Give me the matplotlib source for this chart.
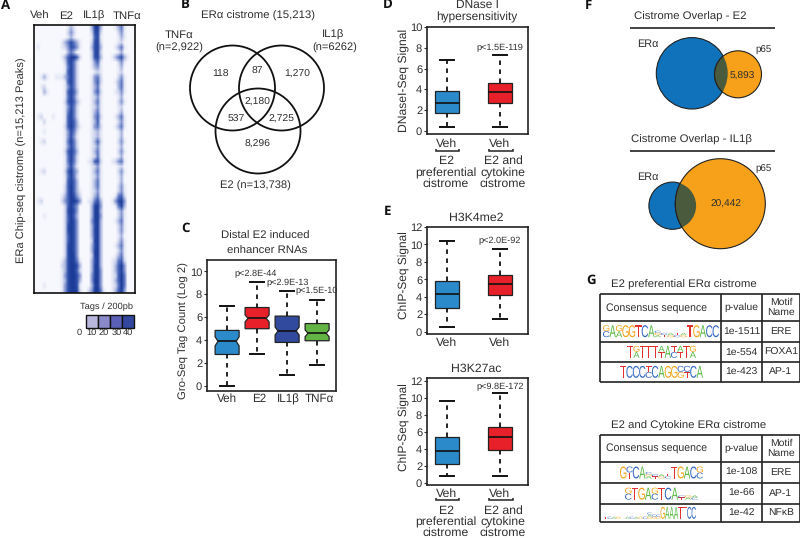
import numpy as np
import matplotlib
matplotlib.use("Agg")
import matplotlib.pyplot as plt
from matplotlib.colors import LinearSegmentedColormap
from matplotlib.patches import Circle, PathPatch, Rectangle
from matplotlib.path import Path
from matplotlib.textpath import TextPath
from matplotlib.font_manager import FontProperties
from matplotlib.transforms import Affine2D

plt.rcParams["font.family"] = ["Liberation Sans", "DejaVu Sans"]
plt.rcParams["text.hinting"] = "no_hinting"

W, H = 800, 538
DARK = "#2f2f2f"
BLUE = "#2b8aca"
RED = "#e8202a"
NAVY = "#324a9e"
GREEN = "#62b445"

# ===== Data =====
heat_labels = ["Veh", "E2", "IL1β", "TNFα"]
# heatmap intensity 0-9, read row by row (groups: Veh, E2, IL1b, TNFa)
heat_rows = [
    "000000000 00131000 00389300 001351000",
    "000000000 00242000 00278200 000241000",
    "000000000 00131000 00168100 000131000",
    "000000000 13575310 00278200 000120000",
    "010000000 12476410 00378300 001351000",
    "000000000 00353000 00278200 000130000",
    "000000000 13699620 00278300 013573100",
    "000000000 02685200 00146100 000241000",
    "000000000 01585200 00134100 000130000",
    "000000000 01685200 00012100 000120000",
    "001310011 13585200 00145200 000241000",
    "000000000 01685200 00146200 001351000",
    "001200000 01475200 00135100 000351000",
    "000310000 01686300 00146200 001241000",
    "000000000 01585200 00124100 000130000",
    "000000000 02686310 00135100 000241000",
    "000000000 01475200 00124100 000120000",
    "000000000 01585200 00135100 000130000",
    "012000100 01685200 00146200 001351000",
    "000200000 01686300 00136100 000241000",
    "000000000 02696310 00145200 001351000",
    "000100000 01475200 00123100 000130000",
    "000000000 01474100 00123100 000130000",
    "001200000 01585200 00136200 000241000",
    "000000000 01475200 00124100 000130000",
    "000000000 02686300 00135100 000241000",
    "000000000 01585200 00125100 000130000",
    "000000000 01585200 01267200 012451000",
    "000000000 01474100 00124100 000120000",
    "001200000 02695300 00135100 000241000",
    "000000000 01585200 00124100 000130000",
    "000000000 01686300 00135100 000130000",
    "000000000 02696300 00135100 000241000",
    "000000000 02696310 00124100 000241000",
    "000000000 13697420 00135100 001562000",
    "012000000 24699740 01257300 014794000",
    "000000000 02696400 00389400 001583000",
    "000000000 02797400 00389300 000241000",
    "000100000 02696300 00389400 000241000",
    "000000000 02697400 00489300 001351000",
    "000000000 02797400 00379300 000241000",
    "000000000 02797400 00389300 000241000",
    "000000000 02697400 00379300 000130000",
    "000000000 02697400 00289300 000241000",
    "000000000 02797400 00379300 001351000",
    "000000000 02797400 00389300 000241000",
    "000000000 02798400 00289300 001351000",
    "000000000 13798510 00379300 012562000",
    "000000000 23799730 00389300 013694000",
    "000000000 13799620 00389400 013684000",
    "000000000 14799740 00489400 012695000",
    "000000000 13799730 00499400 013695000",
    "000100000 14799710 00389400 012595000",
    "000000000 14799820 02499510 013694000",
]
tag_ticks = ["0", "10", "20", "30", "40"]
tag_colors = ["#b9b8dc", "#8a89c9", "#5a60b5", "#33479f"]

venn_numbers = ["118", "87", "1,270", "2,180", "537", "2,725", "8,296"]
f_e2_number = "5,893"
f_il1_number = "20,442"

# whislo, q1, med, q3, whishi
c_names = ["Veh", "E2", "IL1β", "TNFα"]
c_stats = [
    [0.0, 2.75, 3.9, 4.85, 7.0],
    [2.8, 5.0, 5.9, 6.85, 9.05],
    [1.0, 3.8, 4.8, 6.1, 8.3],
    [1.85, 3.95, 4.6, 5.45, 7.55],
]
c_notch = [0.4, 0.3, 0.35, 0.3]
c_pvals = ["p<2.8E-44", "p<2.9E-13", "p<1.5E-10"]

d_stats = [[0.4, 1.7, 2.7, 3.8, 6.8], [0.4, 2.7, 3.7, 4.6, 7.3]]
e1_stats = [[0.5, 2.75, 4.3, 5.8, 10.4], [1.5, 4.2, 5.5, 6.5, 9.5]]
e2_stats = [[0.8, 2.3, 3.8, 5.4, 9.6], [0.8, 3.9, 5.4, 6.6, 10.5]]

motifs_top = ["ERE", "FOXA1", "AP-1"]
pvals_top = ["1e-1511", "1e-554", "1e-423"]
motifs_bottom = ["ERE", "AP-1", "NFκB"]
pvals_bottom = ["1e-108", "1e-66", "1e-42"]

# logo columns: capitals = full height, lowercase = short stack
logo_ere = ["CG", "A", "AG", "G", "G", "T", "C", "A", "agc", "tc", "ga", "ct", "ga",
            "T", "G", "A", "C", "C"]
logo_foxa = ["T", "AG", "T", "T", "T", "TA", "A", "CT", "TA", "T", "AG"]
logo_ap1 = ["T", "C", "C", "C", "CT", "C", "A", "G", "G", "GC", "TC", "C", "A"]
logo_ere2 = ["G", "TC", "C", "A", "agc", "tc", "ga", "ct", "T", "G", "A", "C", "CG"]
logo_ap2 = ["CG", "T", "G", "A", "CG", "T", "C", "A", "tc", "ag", "ca"]
logo_nfkb = ["t", "c", "a", "g", "t", "a", "c", "a", "g", "c", "gac", "gc", "gc", "G",
             "A", "A", "A", "T", "T", "C", "C"]
letter_colors = {"A": "#5cb848", "C": "#3468c0", "G": "#f4a520", "T": "#e03030"}


# ===== Helpers =====
fig = plt.figure(figsize=(W / 100, H / 100), dpi=100)


def px_axes(x0, y0, x1, y1, **kw):
    return fig.add_axes([x0 / W, 1 - y1 / H, (x1 - x0) / W, (y1 - y0) / H], **kw)


def boxes(ax, stats, colors, width, cap, notch=None):
    bx = []
    for i, s in enumerate(stats):
        d = dict(whislo=s[0], q1=s[1], med=s[2], q3=s[3], whishi=s[4], fliers=[])
        if notch is not None:
            d["cilo"] = s[2] - notch[i]
            d["cihi"] = s[2] + notch[i]
        bx.append(d)
    art = ax.bxp(bx, positions=range(1, len(stats) + 1), widths=width, patch_artist=True,
                 showfliers=False, shownotches=notch is not None, capwidths=cap,
                 boxprops=dict(edgecolor="#222222", linewidth=0.9),
                 medianprops=dict(color="#111111", linewidth=1.2),
                 whiskerprops=dict(color="#111111", linewidth=1.3, linestyle=(0, (2.5, 2.5))),
                 capprops=dict(color="#111111", linewidth=1.4))
    for i, (patch, c) in enumerate(zip(art["boxes"], colors)):
        patch.set_facecolor(c)
        if notch is not None:
            # shallower waist than matplotlib's fixed one
            verts = patch.get_path().vertices.copy()
            pos = i + 1
            at_med = np.isclose(verts[:, 1], stats[i][2])
            verts[at_med, 0] = pos + np.sign(verts[at_med, 0] - pos) * width * 0.38
            patch.set_path(Path(verts, patch.get_path().codes))
            art["medians"][i].set_xdata([pos - width * 0.38, pos + width * 0.38])


def style_box_axes(ax, yticks, ylim, xlim):
    ax.set_xlim(*xlim)
    ax.set_ylim(*ylim)
    ax.set_yticks(yticks)
    ax.set_xticks([])
    ax.tick_params(axis="y", labelsize=8, length=2, width=0.8, pad=1.5, colors=DARK)
    for sp in ax.spines.values():
        sp.set_linewidth(1.2)
        sp.set_color("#222222")


# ===== A: heatmap =====
ax_a = px_axes(34, 25, 135, 293)
matrix = np.array([[int(c) for c in row.replace(" ", "")] for row in heat_rows], dtype=float)
heat_cmap = LinearSegmentedColormap.from_list(
    "heat", ["#f7f8fd", "#d5daef", "#94a3d8", "#4f6cbd", "#2a4ba6", "#1c3c98"])
ax_a.imshow(matrix, aspect="auto", cmap=heat_cmap, vmin=0, vmax=9, interpolation="bilinear")
ax_a.set_xticks([])
ax_a.set_yticks([])
for sp in ax_a.spines.values():
    sp.set_linewidth(1.2)
    sp.set_color("#111111")

# ===== C =====
ax_c = px_axes(207, 260, 336, 391)
boxes(ax_c, c_stats, [BLUE, RED, NAVY, GREEN], 0.8, 0.45, c_notch)
style_box_axes(ax_c, [0, 2, 4, 6, 8, 10], (-0.44, 11.0), (0.33, 4.63))

# ===== D, E =====
ax_d = px_axes(427, 27, 528, 134)
boxes(ax_d, d_stats, [BLUE, RED], 0.453, 0.27)
style_box_axes(ax_d, [0, 2, 4, 6, 8, 10], (-0.3, 10), (0.62, 2.53))

ax_e1 = px_axes(427, 227, 528, 334)
boxes(ax_e1, e1_stats, [BLUE, RED], 0.453, 0.27)
style_box_axes(ax_e1, [0, 2, 4, 6, 8, 10, 12], (-0.25, 12), (0.62, 2.53))

ax_e2 = px_axes(427, 378, 528, 485)
boxes(ax_e2, e2_stats, [BLUE, RED], 0.453, 0.27)
style_box_axes(ax_e2, [0, 2, 4, 6, 8, 10, 12], (-0.2, 12.3), (0.62, 2.53))

# ===== Overlay in pixel coordinates =====
ov = fig.add_axes([0, 0, 1, 1], facecolor="none", zorder=10)
ov.set_xlim(0, W)
ov.set_ylim(H, 0)
ov.axis("off")


def T(x, y, s, size=8.2, ha="center", **kw):
    kw.setdefault("color", DARK)
    ov.text(x, y, s, fontsize=size, ha=ha, va="center", **kw)


def seg(xs, ys, lw=1.2, color="#222222"):
    ov.plot(xs, ys, color=color, lw=lw, solid_capstyle="butt", solid_joinstyle="miter")


for x, y, s in [(1, 6, "A"), (181, 5, "B"), (181, 228, "C"), (383, 5, "D"),
                (384, 212, "E"), (585, 6, "F"), (586, 280, "G")]:
    T(x, y, s, size=9.5, ha="left", fontweight="bold", color="#111111", family=["Open Sans", "DejaVu Sans"])

# A labels
for x, s in zip([40, 66, 94, 127], heat_labels):
    T(x, 16, s)
T(22, 160, "ERa Chip-seq cistrome (n=15,213 Peaks)", size=8, rotation=90)
T(107, 307, "Tags / 200pb", size=6.7)
for i, c in enumerate(tag_colors):
    ov.add_patch(Rectangle((86 + 12 * i, 315), 12, 13, facecolor=c, edgecolor="#111111", lw=1))
for x, s in zip([79, 91, 104, 117, 128], tag_ticks):
    T(x, 333, s, size=6.7)

# B venn
for cx, cy in [(232.5, 88), (281.5, 88), (258, 131)]:
    ov.add_patch(Circle((cx, cy), 42.5, facecolor="none", edgecolor="#111111", lw=1.3))
T(258, 16, "ERα cistrome (15,213)")
T(179, 35, "TNFα")
T(179, 47.5, "(n=2,922)", size=8)
T(333, 35, "IL1β")
T(335, 47.5, "(n=6262)", size=8)
T(255, 186, "E2 (n=13,738)", size=8)
venn_xy = [(220, 74), (257, 71), (297, 74), (257, 102), (236, 119), (281, 119), (258, 144)]
for (x, y), s in zip(venn_xy, venn_numbers):
    T(x, y, s, size=7.5)

# C labels
T(265, 236, "Distal E2 induced")
T(267, 251, "enhancer RNAs")
T(184, 331, "Gro-Seq Tag Count (Log 2)", size=8.2, rotation=90)
for x, s in zip([227, 259, 288, 319], c_names):
    T(x, 399, s, size=8.4)
for x, y, s in zip([256, 288, 317], [274, 283, 291], c_pvals):
    T(x, y, s, size=6.6)

# D labels
T(477, 5, "DNase I", size=8.6)
T(477, 17, "hypersensitivity", size=8.6)
T(404, 80, "DNaseI-Seq Signal", size=8.7, rotation=90)
T(500, 48, "p<1.5E-119", size=6.6)


def veh_groups(y_veh, y_br, y_lines):
    for x0, x1, xc in [(436, 459, 447), (489, 513, 500)]:
        T(xc, y_veh, "Veh", size=8.8)
        seg([x0, x0, x1, x1], [y_br - 2.5, y_br, y_br, y_br - 2.5], lw=1.1)
    for y, left, right in zip(y_lines, ["E2", "preferential", "cistrome"],
                              ["E2 and", "cytokine", "cistrome"]):
        T(446, y, left, size=8.8)
        T(503, y, right, size=8.8)


veh_groups(144, 151, [161, 173, 184])

# E labels
T(476, 218, "H3K4me2", size=8.8)
T(404, 275, "ChIP-Seq Signal", size=8.6, rotation=90)
T(500, 241, "p<2.0E-92", size=6.6)
T(447, 343, "Veh", size=8.8)
T(500, 343, "Veh", size=8.8)
T(476, 369, "H3K27ac", size=8.8)
T(404, 427, "ChIP-Seq Signal", size=8.6, rotation=90)
T(500, 387, "p<9.8E-172", size=6.6)
veh_groups(494, 500, [511, 522, 533])


# F venns
def overlap(c_a, c_b, color_a, color_b, mix):
    a = Circle(c_a[:2], c_a[2], facecolor=color_a, edgecolor="#222222", lw=0.8)
    b = Circle(c_b[:2], c_b[2], facecolor=color_b, edgecolor="#222222", lw=0.8)
    ov.add_patch(a)
    ov.add_patch(b)
    both = Circle(c_b[:2], c_b[2], facecolor=mix, edgecolor="#222222", lw=0.8)
    ov.add_patch(both)
    both.set_clip_path(Circle(c_a[:2], c_a[2], transform=ov.transData))


ORANGE = "#f7a11a"
SBLUE = "#0f72ba"
MIX = "#4a5a3d"
T(690, 17, "Cistrome Overlap - E2")
seg([630, 775], [28, 28], lw=1.2)
overlap((692, 73.3, 35.7), (738, 74.3, 23.5), SBLUE, ORANGE, MIX)
T(648, 44, "ERα", size=7.8)
T(764, 50, "p65", size=7)
T(742, 76, f_e2_number, size=7.3)

T(691, 140, "Cistrome Overlap - IL1β")
seg([630, 775], [151, 151], lw=1.2)
overlap((672.5, 205.7, 23.6), (720.3, 203.7, 45), SBLUE, ORANGE, MIX)
T(648, 177, "ERα", size=7.8)
T(764, 169, "p65", size=7)
T(726, 204, f_il1_number, size=7.3)


# G tables
def logo(columns, x0, x1, yc, height):
    fp = FontProperties(family="Liberation Sans")
    w = (x1 - x0) / len(columns)
    base = yc + height / 2
    for i, col in enumerate(columns):
        total = height if col[0].isupper() else height * 0.18 * len(col)
        h = total / len(col)
        for j, ch in enumerate(col.upper()):
            tp = TextPath((0, 0), ch, size=10, prop=fp)
            bb = tp.get_extents()
            tr = (Affine2D().translate(-bb.x0, -bb.y0).scale(w / bb.width, -h / bb.height)
                  .translate(x0 + i * w, base - j * h))
            ov.add_patch(PathPatch(tr.transform_path(tp), facecolor=letter_colors[ch], lw=0))


def motif_table(ys, title, title_y, motifs, pvals, logos):
    xs = [600, 721.3, 762.3, 799.5]
    T(611, title_y, title, ha="left")
    for y in ys:
        seg([xs[0], xs[-1]], [y, y], lw=1.2)
    for x in xs:
        seg([x, x], [ys[0], ys[-1]], lw=1.2)
    T(605.5, (ys[0] + ys[1]) / 2, "Consensus sequence", size=7.6, ha="left")
    T(741.5, (ys[0] + ys[1]) / 2, "p-value", size=7.5)
    T(781, (ys[0] + ys[1]) / 2 - 5, "Motif", size=7.5)
    T(781, (ys[0] + ys[1]) / 2 + 5, "Name", size=7.5)
    for i in range(3):
        yc = (ys[i + 1] + ys[i + 2]) / 2
        T(741.5, yc, pvals[i], size=7.5)
        T(781, yc, motifs[i], size=7.5)
        logo(logos[i][0], logos[i][1], logos[i][2], yc, 12)


motif_table([294.3, 320.7, 341.7, 362, 381.7], "E2 preferential ERα cistrome", 285,
            motifs_top, pvals_top,
            [(logo_ere, 603, 719), (logo_foxa, 627, 696), (logo_ap1, 620, 703)])
motif_table([435, 461.7, 483.3, 504, 521.7], "E2 and Cytokine ERα cistrome", 426,
            motifs_bottom, pvals_bottom,
            [(logo_ere2, 620, 703), (logo_ap2, 625, 698), (logo_nfkb, 603, 696)])

fig.savefig("out.png", dpi=100)
